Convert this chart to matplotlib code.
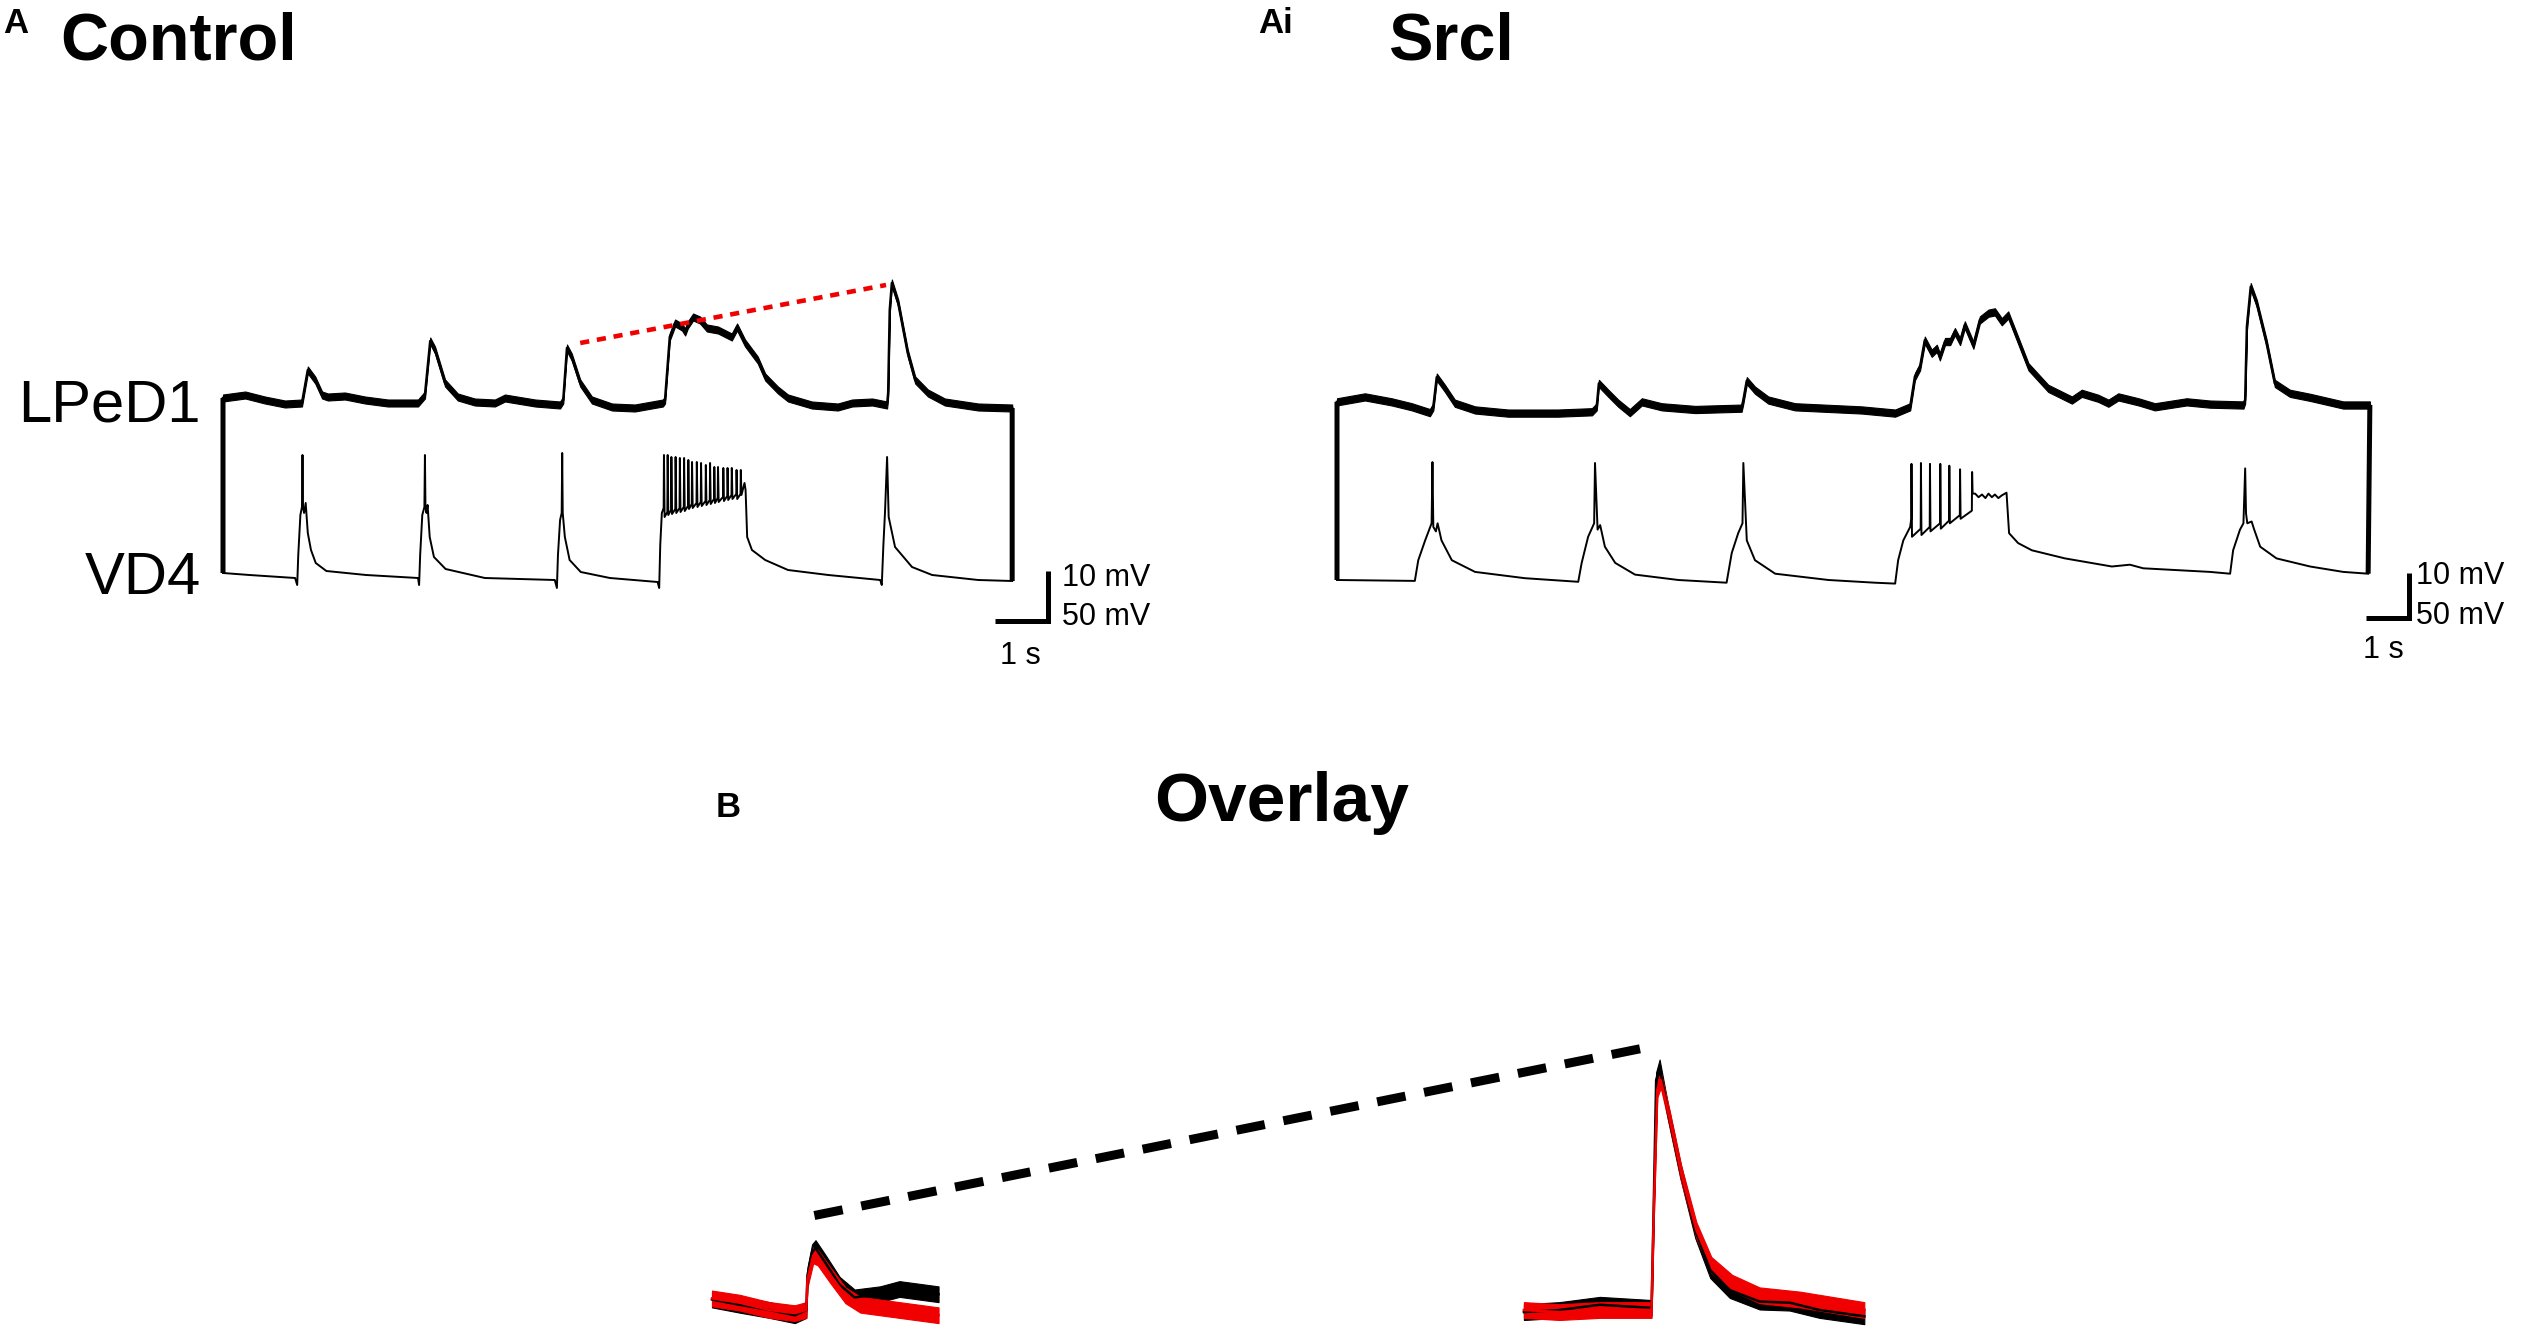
import matplotlib.pyplot as plt
from matplotlib.patches import ConnectionPatch

# ---- data (time in s, voltage in mV relative to rest) ----

# Control, LPeD1
ctrl_lped1 = [(0.00, 0.4), (0.42, 1.0), (0.79, 0.0), (1.17, -0.8), (1.49, -0.6), (1.51, 0.6), (1.60, 6.0),
              (1.74, 4.0), (1.87, 1.0), (1.98, 0.6), (2.30, 0.8), (2.68, 0.0), (3.11, -0.6), (3.68, -0.6),
              (3.81, 1.0), (3.91, 11.8), (4.00, 10.0), (4.19, 3.4), (4.43, 0.6), (4.75, -0.4), (5.13, -0.6),
              (5.32, 0.4), (5.89, -0.6), (6.36, -1.0), (6.42, 0.0), (6.49, 10.4), (6.58, 8.6), (6.74, 3.4),
              (6.96, 0.0), (7.34, -1.4), (7.77, -1.6), (8.30, -0.6), (8.34, 0.0), (8.43, 12.6), (8.53, 15.4),
              (8.66, 14.6), (8.72, 13.6), (8.77, 15.0), (8.87, 16.6), (9.00, 16.0), (9.13, 14.4), (9.34, 14.0),
              (9.60, 12.6), (9.70, 14.6), (9.85, 11.4), (10.09, 8.0), (10.23, 4.6), (10.47, 2.0), (10.66, 0.4),
              (11.11, -1.0), (11.60, -1.4), (11.87, -0.6), (12.25, -0.4), (12.53, -1.0), (12.55, 1.4),
              (12.58, 18.0), (12.62, 23.4), (12.74, 19.4), (12.92, 9.4), (13.06, 4.0), (13.30, 1.4),
              (13.62, -0.4), (14.25, -1.4), (14.89, -1.6)]
ctrl_trend_t = [6.74, 12.51]
ctrl_trend_v = [11.4, 23.0]

# Control, VD4 (single spikes + burst)
ctrl_vd4_pre = [(0.00, 2), (0.50, 0), (1.36, -3), (1.40, -10), (1.42, 20), (1.46, 60), (1.49, 68), (1.50, 120),
                (1.51, 68), (1.53, 62), (1.56, 72), (1.60, 42), (1.66, 25), (1.75, 12), (1.95, 4), (2.70, 0),
                (3.68, -3), (3.70, -10), (3.72, 20), (3.76, 60), (3.80, 68), (3.81, 120), (3.82, 68), (3.84, 62),
                (3.86, 70), (3.90, 38), (3.98, 18), (4.20, 6), (4.94, -3), (6.26, -5), (6.30, -13), (6.32, 20),
                (6.36, 55), (6.39, 62), (6.40, 122), (6.41, 62), (6.45, 38), (6.54, 15), (6.75, 3), (7.30, -3),
                (8.20, -7), (8.23, -13), (8.25, 30), (8.28, 62)]
ctrl_burst_t = [8.32, 8.39, 8.46, 8.54, 8.62, 8.70, 8.78, 8.85, 8.94, 9.02, 9.11, 9.19, 9.27, 9.34, 9.44,
                9.52, 9.60, 9.69, 9.77]
ctrl_burst_peak = [120, 120, 118, 118, 117, 117, 115, 113, 113, 112, 110, 112, 108, 108, 107, 107, 107, 105, 105]
ctrl_burst_trough = [58, 60, 61, 62, 63, 64, 66, 67, 68, 69, 70, 71, 72, 73, 74, 75, 76, 76, 80]
ctrl_vd4_post = [(9.84, 92), (9.86, 85), (9.89, 38), (9.98, 25), (10.23, 15), (10.66, 5), (11.42, 0),
                 (12.40, -5), (12.43, -10), (12.46, 30), (12.49, 62), (12.53, 118), (12.56, 58), (12.68, 28),
                 (13.00, 8), (13.38, 0), (14.25, -5), (14.89, -6)]

# Srcl, LPeD1
srcl_lped1 = [(0.00, 0.7), (0.65, 1.8), (1.27, 0.7), (1.74, -0.4), (2.16, -1.7), (2.24, -0.4), (2.32, 6.2),
              (2.51, 3.7), (2.74, 0.4), (3.21, -1.1), (3.98, -1.8), (5.14, -1.8), (5.93, -1.5), (6.04, -0.4),
              (6.09, 4.8), (6.31, 2.6), (6.54, 0.4), (6.81, -1.7), (7.09, 0.7), (7.55, -0.4), (8.33, -1.0),
              (9.41, -0.7), (9.45, 1.1), (9.53, 5.4), (9.72, 3.3), (10.03, 1.1), (10.65, -0.4), (12.20, -1.1),
              (12.98, -1.8), (13.33, -0.4), (13.44, 6.3), (13.56, 8.5), (13.67, 14.4), (13.83, 11.5),
              (13.95, 12.6), (14.02, 10.7), (14.14, 14.1), (14.26, 14.1), (14.37, 16.3), (14.49, 14.1),
              (14.60, 17.8), (14.80, 13.3), (14.95, 18.9), (15.15, 20.4), (15.30, 20.7), (15.46, 18.5),
              (15.61, 20.0), (15.84, 14.4), (16.08, 8.5), (16.54, 3.7), (17.09, 1.1), (17.32, 2.6),
              (17.70, 1.5), (17.94, 0.4), (18.17, 1.8), (18.64, 0.7), (19.02, -0.4), (19.76, 0.7),
              (20.30, 0.2), (21.08, 0.0), (21.12, 1.1), (21.16, 17.4), (21.25, 26.3), (21.39, 22.6),
              (21.62, 13.7), (21.81, 4.8), (22.16, 2.6), (22.63, 1.7), (23.40, 0.0), (24.02, 0.0)]

# Srcl, VD4
srcl_vd4_pre = [(0.00, 0), (1.81, -1), (1.89, 22), (2.05, 44), (2.20, 63), (2.22, 131), (2.24, 59), (2.30, 54),
                (2.34, 63), (2.43, 44), (2.67, 22), (3.21, 9), (4.37, 2), (5.61, -2), (5.69, 19), (5.84, 48),
                (5.98, 63), (6.00, 130), (6.06, 56), (6.12, 61), (6.23, 37), (6.47, 19), (6.93, 6), (7.94, 0),
                (9.06, -3), (9.18, 30), (9.33, 52), (9.43, 63), (9.45, 130), (9.53, 44), (9.72, 22), (10.19, 7),
                (11.43, 0), (12.51, -3), (12.98, -4), (13.05, 22), (13.17, 44), (13.33, 59)]
srcl_burst_t = [13.36, 13.58, 13.79, 14.03, 14.24, 14.49, 14.77]
srcl_burst_peak = [129, 130, 129, 129, 127, 123, 120]
srcl_burst_trough = [48, 50, 54, 57, 63, 68, 96]
srcl_vd4_post = [(14.84, 96), (14.92, 92), (15.00, 95), (15.08, 91), (15.15, 96), (15.23, 92), (15.30, 95),
                 (15.38, 91), (15.46, 94), (15.57, 97), (15.63, 52), (15.84, 41), (16.16, 33), (16.93, 24),
                 (18.02, 15), (18.44, 17), (18.75, 13), (20.30, 9), (20.77, 7), (20.84, 33), (21.00, 56),
                 (21.08, 63), (21.12, 124), (21.14, 74), (21.17, 63), (21.27, 65), (21.33, 56), (21.47, 37),
                 (21.85, 24), (22.63, 15), (23.40, 9), (23.98, 7)]

# Overlay: first and last EPSP, control (black) vs Srcl (red)
ovl_ctrl = [[(0.00, 1.0), (0.24, 0.5), (0.50, 0.0), (0.72, -0.5), (0.82, 0.0), (0.83, 3.3), (0.87, 5.5),
             (0.90, 5.9), (0.98, 4.6), (1.11, 2.4), (1.24, 1.2), (1.46, 1.5), (1.63, 2.0), (1.97, 1.5)],
            [(7.06, -0.2), (7.37, 0.0), (7.72, 0.5), (8.17, 0.2), (8.19, 10.5), (8.21, 21.9), (8.24, 23.1),
             (8.31, 19.0), (8.42, 13.3), (8.55, 7.6), (8.68, 3.8), (8.85, 1.9), (9.11, 0.8), (9.37, 0.7),
             (9.63, 0.0), (10.02, -0.6)]]
ovl_srcl = [[(0.00, 1.1), (0.24, 0.7), (0.50, 0.0), (0.72, -0.3), (0.82, 0.0), (0.83, 2.9), (0.88, 5.2),
             (0.92, 5.0), (1.03, 3.3), (1.16, 1.4), (1.29, 0.5), (1.63, 0.0), (1.97, -0.5)],
            [(7.06, 0.0), (7.37, -0.2), (7.72, 0.0), (8.17, 0.0), (8.19, 9.5), (8.22, 21.0), (8.25, 21.9),
             (8.33, 18.1), (8.43, 12.9), (8.56, 7.6), (8.69, 4.3), (8.87, 2.6), (9.11, 1.4), (9.46, 1.0),
             (10.02, 0.0)]]
ovl_trend_t = [0.89, 8.17]
ovl_trend_v = [9.0, 25.1]

# ---- figure ----
W, H = 2527, 1338
fig = plt.figure(figsize=(W / 100, H / 100), dpi=100)
RED = '#f00000'
BOLD = dict(family=['Liberation Sans', 'DejaVu Sans'], weight='bold')
REG = dict(family=['Liberation Sans', 'DejaVu Sans'])


def fx(x):
    return x / W


def fy(y):
    return 1 - y / H


def trace_axes(x0, y0, sx, sy, tlim, vlim):
    # axes whose data origin sits at pixel (x0, y0) with sx px/s and sy px/mV
    left, right = x0 + tlim[0] * sx, x0 + tlim[1] * sx
    top, bottom = y0 - vlim[1] * sy, y0 - vlim[0] * sy
    ax = fig.add_axes([fx(left), fy(bottom), (right - left) / W, (bottom - top) / H])
    ax.set_xlim(tlim)
    ax.set_ylim(vlim)
    ax.axis('off')
    return ax


def unzip(pts):
    return [p[0] for p in pts], [p[1] for p in pts]


def with_burst(pre, times, peaks, troughs, post, ramp):
    pts = list(pre)
    level = pre[-1][1]
    for t, p, tr in zip(times, peaks, troughs):
        pts += [(t - 0.006, level + ramp), (t, p), (t + 0.012, tr)]
        level = tr
    return pts + list(post)


def noisy(ax, pts, hw, color='k', lw=1.8):
    # recorded noise shows up as a band of constant vertical thickness
    t, v = unzip(pts)
    ax.fill_between(t, [a - hw for a in v], [a + hw for a in v], color=color, lw=0.8)
    ax.plot(t, v, color=color, lw=lw)


def link(ax1, p1, ax2, p2):
    fig.add_artist(ConnectionPatch(xyA=p1, coordsA=ax1.transData, xyB=p2, coordsB=ax2.transData,
                                   color='k', lw=3.6, capstyle='butt'))


def scale_bar(ax, corner, tlen, vlen):
    t0, v0 = corner
    ax.plot([t0 - tlen, t0, t0], [v0, v0, v0 + vlen], color='k', lw=3.6,
            solid_joinstyle='miter', solid_capstyle='butt')


# Panel A: Control
a_top = trace_axes(223, 400, 53, 5.0, (-0.5, 16.5), (-5, 27))
a_bot = trace_axes(223, 575, 53, 1.0, (-0.5, 16.5), (-60, 140))
noisy(a_top, ctrl_lped1, 0.7)
ct, cv = unzip(with_burst(ctrl_vd4_pre, ctrl_burst_t, ctrl_burst_peak, ctrl_burst_trough, ctrl_vd4_post, 5))
a_bot.plot(ct, cv, color='k', lw=1.4)
a_top.plot(ctrl_trend_t, ctrl_trend_v, color=RED, lw=3.3, dashes=(2.0, 1.7))
link(a_top, ctrl_lped1[0], a_bot, (ct[0], cv[0]))
link(a_top, ctrl_lped1[-1], a_bot, (ct[-1], cv[-1]))
scale_bar(a_bot, (15.57, -46), 1, 50)

# Panel Ai: Srcl
b_top = trace_axes(1337, 405, 43, 4.5, (-0.5, 26.5), (-5, 28))
b_bot = trace_axes(1337, 580, 43, 0.9, (-0.5, 26.5), (-60, 140))
noisy(b_top, srcl_lped1, 0.8)
st, sv = unzip(with_burst(srcl_vd4_pre, srcl_burst_t, srcl_burst_peak, srcl_burst_trough, srcl_vd4_post, 9))
b_bot.plot(st, sv, color='k', lw=1.4)
link(b_top, srcl_lped1[0], b_bot, (st[0], sv[0]))
link(b_top, srcl_lped1[-1], b_bot, (st[-1], sv[-1]))
scale_bar(b_bot, (24.93, -42), 1, 50)

# Panel B: overlay
c = trace_axes(712, 1310, 115, 10.5, (-0.5, 10.5), (-3, 28))
for piece in ovl_ctrl:
    noisy(c, piece, 0.75, color='k', lw=1.8)
for piece in ovl_srcl:
    noisy(c, piece, 0.75, color=RED, lw=1.8)
c.plot(ovl_trend_t, ovl_trend_v, color='k', lw=6.5, dashes=(3.2, 2.1))

# ---- text ----
fig.text(fx(3), fy(33), 'A', fontsize=25, ha='left', va='baseline', **BOLD)
fig.text(fx(60), fy(60), 'Control', fontsize=48, ha='left', va='baseline', **BOLD)
fig.text(fx(1258), fy(33), 'Ai', fontsize=25, ha='left', va='baseline', **BOLD)
fig.text(fx(1388), fy(60), 'Srcl', fontsize=48, ha='left', va='baseline', **BOLD)
fig.text(fx(716), fy(817), 'B', fontsize=25, ha='left', va='baseline', **BOLD)
fig.text(fx(1154), fy(821), 'Overlay', fontsize=50, ha='left', va='baseline', **BOLD)

fig.text(fx(201), fy(422), 'LPeD1', fontsize=43, ha='right', va='baseline', **REG)
fig.text(fx(201), fy(594), 'VD4', fontsize=43, ha='right', va='baseline', **REG)

fig.text(fx(1062), fy(586), '10 mV', fontsize=22, ha='left', va='baseline', **REG)
fig.text(fx(1062), fy(625), '50 mV', fontsize=22, ha='left', va='baseline', **REG)
fig.text(fx(1020), fy(664), '1 s', fontsize=22, ha='center', va='baseline', **REG)
fig.text(fx(2416), fy(584), '10 mV', fontsize=22, ha='left', va='baseline', **REG)
fig.text(fx(2416), fy(624), '50 mV', fontsize=22, ha='left', va='baseline', **REG)
fig.text(fx(2383), fy(658), '1 s', fontsize=22, ha='center', va='baseline', **REG)

fig.savefig('out.png', dpi=100)
